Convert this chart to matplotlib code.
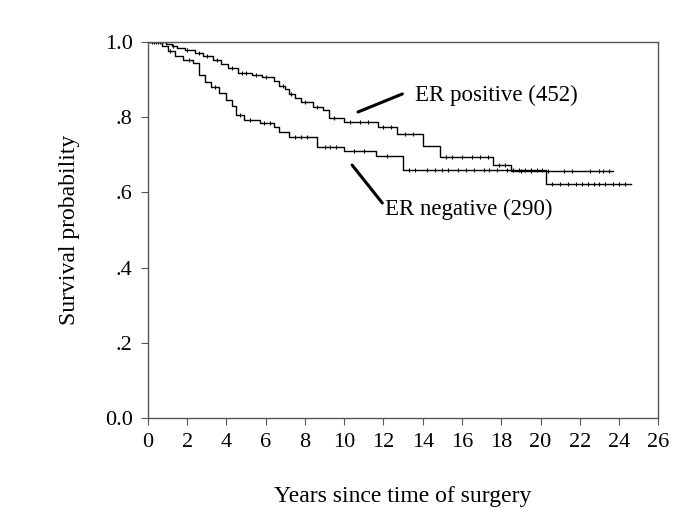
import numpy as np
import matplotlib
matplotlib.use("Agg")
import matplotlib.pyplot as plt

plt.rcParams['font.family'] = ['Liberation Serif', 'DejaVu Serif']

# Kaplan-Meier steps (time in years, survival probability)
pos_t = [0, 0.9, 1.2, 1.5, 1.9, 2.4, 2.8, 3.3, 3.7, 4.1, 4.6, 5.3, 5.8, 6.4, 6.7, 7.0, 7.2, 7.5,
         7.8, 8.4, 8.9, 9.2, 10.0, 11.7, 12.7, 14.0, 14.9, 17.6, 18.5, 23.7]
pos_s = [1.0, 0.995, 0.99, 0.984, 0.978, 0.971, 0.962, 0.952, 0.942, 0.931, 0.918, 0.913, 0.907,
         0.896, 0.884, 0.874, 0.862, 0.850, 0.840, 0.827, 0.819, 0.798, 0.787, 0.774, 0.756, 0.723,
         0.694, 0.673, 0.657, 0.657]

neg_t = [0, 0.7, 1.0, 1.4, 1.8, 2.3, 2.6, 2.9, 3.2, 3.6, 4.0, 4.3, 4.5, 4.9, 5.7, 6.4, 6.7, 7.2,
         8.6, 10.0, 11.6, 13.0, 20.3, 24.6]
neg_s = [1.0, 0.99, 0.975, 0.962, 0.952, 0.944, 0.912, 0.895, 0.88, 0.865, 0.846, 0.83, 0.806,
         0.793, 0.785, 0.774, 0.762, 0.747, 0.721, 0.710, 0.697, 0.66, 0.622, 0.622]

# censoring times
pos_c = [0.2, 0.4, 0.6, 1.3, 2.0, 2.6, 3.0, 3.5, 4.3, 4.8, 5.0, 5.5, 6.0, 6.9, 7.3, 8.0, 8.6, 9.5,
         10.3, 10.8, 11.2, 12.0, 12.4, 13.1, 13.5, 15.2, 15.5, 16.0, 16.5, 16.9, 17.3, 17.9, 18.2,
         19.0, 19.5, 20.4, 21.2, 21.6, 22.5, 23.0, 23.2, 23.5]
neg_c = [0.3, 0.5, 1.1, 2.1, 3.4, 4.7, 5.2, 5.9, 6.2, 7.5, 7.8, 8.1, 9.0, 9.3, 9.6, 10.5, 11.0,
         12.2, 13.3, 13.6, 14.2, 14.6, 15.0, 15.3, 15.8, 16.2, 16.6, 17.1, 17.4, 17.8, 18.3, 18.6,
         18.9, 19.2, 19.5, 19.8, 20.1, 20.6, 21.0, 21.4, 21.8, 22.1, 22.4, 22.7, 23.0, 23.3, 23.7,
         24.0, 24.3]


def surv_at(ts, ss, c):
    i = np.searchsorted(ts, c, side='right') - 1
    return np.array(ss)[i]


fig = plt.figure(figsize=(6.85, 5.13), dpi=100)
ax = fig.add_axes([0.216, 0.185, 0.745, 0.733])

for ts, ss, cs in [(pos_t, pos_s, pos_c), (neg_t, neg_s, neg_c)]:
    ax.step(ts, ss, where='post', color='black', lw=1.0)
    ax.plot(cs, surv_at(ts, ss, cs), ls='none', marker='|', ms=3, mew=0.8, color='black')

ax.set_xlim(0, 26)
ax.set_ylim(0, 1.0)
ax.set_xticks(np.arange(0, 27, 2))
ax.set_yticks([0, 0.2, 0.4, 0.6, 0.8, 1.0])
ax.set_yticklabels(['0.0', '.2', '.4', '.6', '.8', '1.0'])
ax.tick_params(direction='out', length=5, width=0.8, color='#555555', labelsize=16, pad=6)
for sp in ax.spines.values():
    sp.set_color('#555555')
    sp.set_linewidth(1.0)

ax.set_xlabel('Years since time of surgery', fontsize=17, labelpad=24)
ax.set_ylabel('Survival probability', fontsize=17, labelpad=18)

# label leader lines
ax.annotate('', xy=(10.7, 0.814), xytext=(12.96, 0.862),
            arrowprops=dict(arrowstyle='-', lw=2.2, color='black', shrinkA=0, shrinkB=0))
ax.annotate('', xy=(10.4, 0.673), xytext=(11.94, 0.572),
            arrowprops=dict(arrowstyle='-', lw=2.2, color='black', shrinkA=0, shrinkB=0))
ax.text(13.6, 0.857, 'ER positive (452)', fontsize=16.5, va='center', ha='left')
ax.text(12.1, 0.556, 'ER negative (290)', fontsize=16.5, va='center', ha='left')

fig.savefig('out.png', dpi=100)
